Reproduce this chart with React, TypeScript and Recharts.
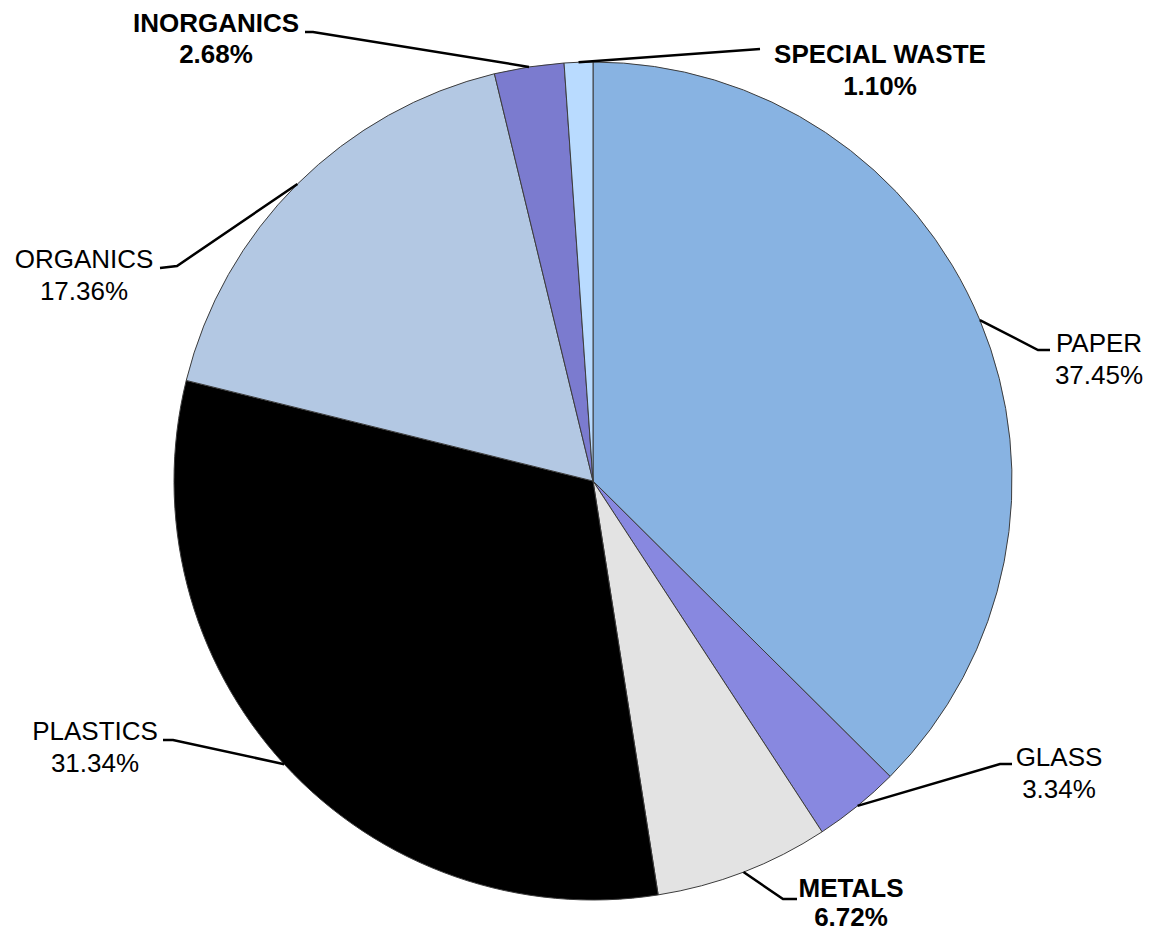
import { PieChart, Pie, Cell } from "recharts";

const categories = [
  "PAPER",
  "GLASS",
  "METALS",
  "PLASTICS",
  "ORGANICS",
  "INORGANICS",
  "SPECIAL WASTE",
];
const shares = [37.45, 3.34, 6.72, 31.34, 17.36, 2.68, 1.1];
const COLORS = [
  "#88b3e2",
  "#8888e0",
  "#e3e3e3",
  "#000000",
  "#b3c8e3",
  "#7b7bcf",
  "#b9dbff",
];

// label placement: elbow point, line end, text centre, first baseline, line gap
const LABEL_LAYOUT = [
  { elbow: [1038, 350], end: [1050, 350], tx: 1099, ty: 352, gap: 32, bold: false },
  { elbow: [1000, 764], end: [1012, 764], tx: 1059, ty: 766, gap: 32, bold: false },
  { elbow: [783, 899], end: [797, 899], tx: 851, ty: 897, gap: 29, bold: true },
  { elbow: [173, 740], end: [163, 740], tx: 95, ty: 740, gap: 32, bold: false },
  { elbow: [177, 266], end: [160, 268], tx: 84, ty: 268, gap: 32, bold: false },
  { elbow: [313, 32], end: [305, 32], tx: 216, ty: 32, gap: 31, bold: true },
  { elbow: [760, 49], end: [760, 49], tx: 880, ty: 63, gap: 32, bold: true },
];

const data = categories.map((name, i) => ({ name, value: shares[i] }));

const RADIAN = Math.PI / 180;

const renderLabel = (props: any) => {
  const { cx, cy, midAngle, outerRadius, index } = props;
  const layout = LABEL_LAYOUT[index];
  const sx = cx + outerRadius * Math.cos(-midAngle * RADIAN);
  const sy = cy + outerRadius * Math.sin(-midAngle * RADIAN);
  const pts = `${sx},${sy} ${layout.elbow[0]},${layout.elbow[1]} ${layout.end[0]},${layout.end[1]}`;
  const textProps = {
    x: layout.tx,
    textAnchor: "middle" as const,
    fill: "#000",
    fontSize: 26,
    fontWeight: layout.bold ? "bold" : "normal",
    fontFamily: "'Liberation Sans', Arial, sans-serif",
  };
  return (
    <g key={`label-${index}`}>
      <polyline points={pts} fill="none" stroke="#000" strokeWidth={2.5} />
      <text {...textProps} y={layout.ty}>
        {categories[index]}
      </text>
      <text {...textProps} y={layout.ty + layout.gap}>
        {`${shares[index].toFixed(2)}%`}
      </text>
    </g>
  );
};

export default function App() {
  return (
    <div style={{ position: "absolute", left: 0, top: 0, background: "#fff" }}>
      <PieChart
        width={1150}
        height={934}
        margin={{ top: 0, right: 0, bottom: 0, left: 0 }}
      >
        <Pie
          data={data}
          dataKey="value"
          nameKey="name"
          cx={593}
          cy={481}
          outerRadius={419}
          startAngle={90}
          endAngle={-270}
          stroke="#3c3c3c"
          strokeWidth={1}
          label={renderLabel}
          labelLine={false}
          isAnimationActive={false}
        >
          {data.map((entry, index) => (
            <Cell key={`cell-${index}`} fill={COLORS[index]} />
          ))}
        </Pie>
      </PieChart>
    </div>
  );
}
